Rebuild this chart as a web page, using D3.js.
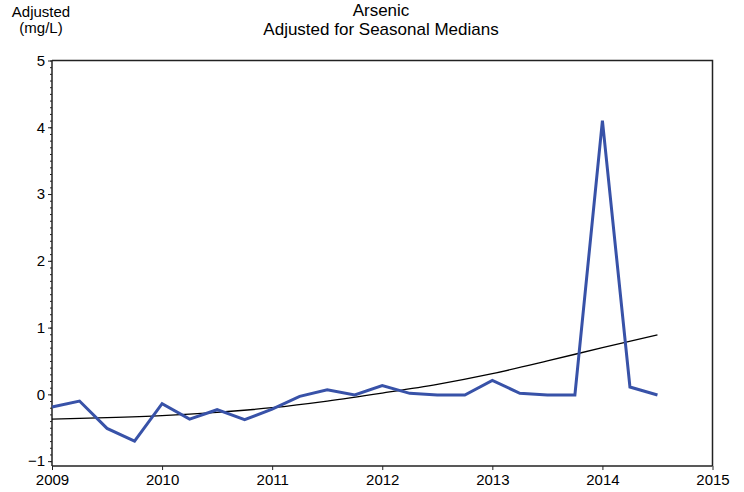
<!DOCTYPE html>
<html>
<head>
<meta charset="utf-8">
<script src="https://cdn.jsdelivr.net/npm/d3@7"></script>
<style>
html,body{margin:0;padding:0;background:#fff;}
svg{display:block;}
text{font-family:"Liberation Sans", Arial, sans-serif; fill:#000;}
</style>
</head>
<body>
<svg id="chart" width="744" height="492"></svg>
<script>
// ---- data ----
const quarters = [2009.0,2009.25,2009.5,2009.75,2010.0,2010.25,2010.5,2010.75,2011.0,2011.25,2011.5,2011.75,2012.0,2012.25,2012.5,2012.75,2013.0,2013.25,2013.5,2013.75,2014.0,2014.25,2014.5];
const adjusted = [-0.19,-0.10,-0.51,-0.70,-0.14,-0.37,-0.23,-0.38,-0.22,-0.03,0.07,-0.01,0.13,0.015,-0.01,-0.01,0.21,0.015,-0.01,-0.01,4.10,0.11,-0.01];
const trendX = [2009.0,2009.5,2010.0,2010.5,2011.0,2011.5,2012.0,2012.5,2013.0,2013.5,2014.0,2014.5];
const trendY = [-0.37,-0.35,-0.32,-0.27,-0.20,-0.10,0.02,0.15,0.31,0.50,0.70,0.89];
const xTicks = [2009,2010,2011,2012,2013,2014,2015];
const yTicks = [-1,0,1,2,3,4,5];
const titleLines = ["Arsenic","Adjusted for Seasonal Medians"];
const yLabelLines = ["Adjusted","(mg/L)"];

const svg = d3.select("#chart");
const pL = 52, pR = 712.5, pT = 60.5, pB = 466;
const x = d3.scaleLinear().domain([2009,2015]).range([pL,pR]);
const y = d3.scaleLinear().domain([-1.073,5]).range([pB,pT]);

// frame (top & right)
svg.append("path")
  .attr("d", `M${pL},${pT}H${pR}V${pB}`)
  .attr("fill","none").attr("stroke","#222").attr("stroke-width",1.5);

// y axis with minor ticks
const minor = d3.range(-10,51).map(d=>d/10);
svg.append("g").attr("transform",`translate(${pL},0)`)
  .call(d3.axisLeft(y).tickValues(minor).tickSize(2).tickFormat(""))
  .call(g=>{g.select(".domain").remove(); g.selectAll("line").attr("stroke","#222");});
const yAx = svg.append("g").attr("transform",`translate(${pL},0)`)
  .call(d3.axisLeft(y).tickValues(yTicks).tickSize(4).tickPadding(3).tickSizeOuter(0).tickFormat(d3.format("d")));
yAx.select(".domain").attr("stroke","#222").attr("stroke-width",1.5).attr("d",`M0,${pT}V${pB}`);
yAx.selectAll("line").attr("stroke","#222");
yAx.selectAll("text").attr("font-size","15px").attr("font-family","Liberation Sans, Arial, sans-serif").attr("fill","#000");

// x axis
const xAx = svg.append("g").attr("transform",`translate(0,${pB})`)
  .call(d3.axisBottom(x).tickValues(xTicks).tickSize(4).tickPadding(4).tickSizeOuter(0).tickFormat(d3.format("d")));
xAx.select(".domain").attr("stroke","#222").attr("stroke-width",1.5).attr("d",`M${pL},0H${pR}`);
xAx.selectAll("line").attr("stroke","#222");
xAx.selectAll("text").attr("font-size","15px").attr("font-family","Liberation Sans, Arial, sans-serif").attr("fill","#000");

// trend line
const trend = trendX.map((v,i)=>({x:v,y:trendY[i]}));
svg.append("path").datum(trend)
  .attr("fill","none").attr("stroke","#000").attr("stroke-width",1.3)
  .attr("d", d3.line().x(d=>x(d.x)).y(d=>y(d.y)).curve(d3.curveMonotoneX));

// data line
const pts = quarters.map((v,i)=>({x:v,y:adjusted[i]}));
svg.append("path").datum(pts)
  .attr("fill","none").attr("stroke","#3852A8").attr("stroke-width",3).attr("stroke-linejoin","miter")
  .attr("d", d3.line().x(d=>x(d.x)).y(d=>y(d.y)));

// title
svg.append("g").selectAll("text").data(titleLines).join("text")
  .attr("x",381).attr("y",(d,i)=>15.5+i*19.5)
  .attr("text-anchor","middle").attr("font-size","17px").text(d=>d);

// y label
svg.append("g").selectAll("text").data(yLabelLines).join("text")
  .attr("x",41).attr("y",(d,i)=>17+i*15.5)
  .attr("text-anchor","middle").attr("font-size","15px").text(d=>d);
</script>
</body>
</html>
